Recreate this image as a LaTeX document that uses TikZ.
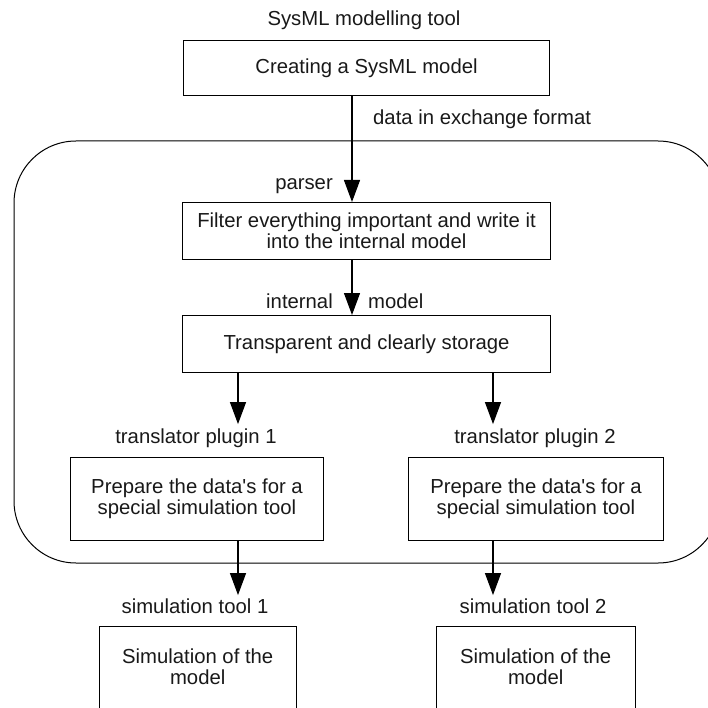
\documentclass[tikz,border=0pt]{standalone}
\usepackage{fontspec}
\setmainfont{Liberation Sans}
\usetikzlibrary{arrows.meta}
\begin{document}
\begin{tikzpicture}[x=1pt,y=-1pt,
  txt/.style={font=\fontsize{20.3}{21}\selectfont, inner sep=0pt, text=black!90},
  box/.style={txt, draw, line width=1pt, anchor=north west, align=center},
  lbl/.style={txt},
  arr/.style={draw, line width=1.2pt, -{Triangle[length=22pt,width=16pt]}},
  frame/.style={draw, line width=1pt},
]
\useasboundingbox (0,0) rectangle (708,708);
\clip (0,0) rectangle (708,708);

% container
\draw[frame, rounded corners=62pt] (14,141) rectangle (720,563);

% boxes
\node[box, minimum width=366pt, minimum height=55pt] (top) at (183,40) {Creating a SysML model};
\node[box, minimum width=368pt, minimum height=57pt] (filter) at (182,202) {Filter everything important and write it\\into the internal model};
\node[box, minimum width=368pt, minimum height=57pt] (store) at (182,315) {Transparent and clearly storage};
\node[box, minimum width=253pt, minimum height=83pt] (prep1) at (70,457) {Prepare the data\textquotesingle s for a\\special simulation tool};
\node[box, minimum width=255pt, minimum height=83pt] (prep2) at (408,457) {Prepare the data\textquotesingle s for a\\special simulation tool};
\node[txt, anchor=north west, align=center, minimum width=197pt, minimum height=82pt] (sim1) at (99,626) {Simulation of the\\model};
\node[txt, anchor=north west, align=center, minimum width=199pt, minimum height=82pt] (sim2) at (436,626) {Simulation of the\\model};
\draw[frame] (sim1.south west) -- (sim1.north west) -- (sim1.north east) -- (sim1.south east);
\draw[frame] (sim2.south west) -- (sim2.north west) -- (sim2.north east) -- (sim2.south east);

% labels
\node[lbl, anchor=base] (ltool) at (364,26) {SysML modelling tool};
\node[lbl, anchor=base west] (ldata) at (373,125) {data in exchange format};
\node[lbl, anchor=base east] (lparser) at (333,190) {parser};
\node[lbl, anchor=base east] (lint) at (333,308) {internal};
\node[lbl, anchor=base west] (lmodel) at (368,308) {model};
\node[lbl, anchor=base] (ltr1) at (196,443) {translator plugin 1};
\node[lbl, anchor=base] (ltr2) at (535,443) {translator plugin 2};
\node[lbl, anchor=base] (lsim1) at (195,613) {simulation tool 1};
\node[lbl, anchor=base] (lsim2) at (533,613) {simulation tool 2};

% connector columns and arrow tips
\coordinate (c0) at (352,0);
\coordinate (c1) at (238,0);
\coordinate (c2) at (493,0);
\coordinate (t1) at ([yshift=4pt]ltr1.north);
\coordinate (t2) at ([yshift=4pt]ltr2.north);
\coordinate (u1) at ([yshift=3pt]lsim1.north);
\coordinate (u2) at ([yshift=3pt]lsim2.north);

% connectors
\draw[arr] (top.south -| c0) -- (filter.north -| c0);
\draw[arr] (filter.south -| c0) -- (store.north -| c0);
\draw[arr] (store.south -| c1) -- (t1 -| c1);
\draw[arr] (store.south -| c2) -- (t2 -| c2);
\draw[arr] (prep1.south -| c1) -- (u1 -| c1);
\draw[arr] (prep2.south -| c2) -- (u2 -| c2);
\end{tikzpicture}
\end{document}
